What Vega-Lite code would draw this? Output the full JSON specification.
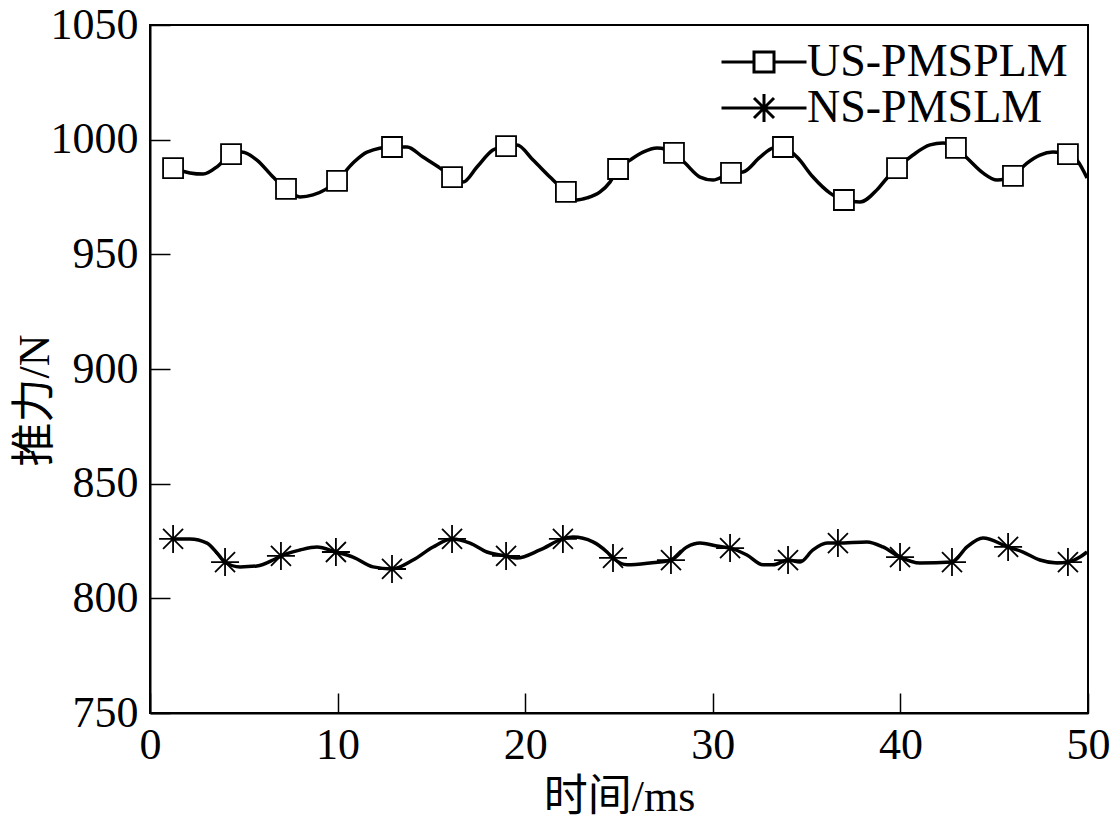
{
  "$schema": "https://vega.github.io/schema/vega-lite/v6.json",
  "width": 938,
  "height": 688,
  "autosize": {"type": "none"},
  "padding": {"left": 150, "top": 25, "right": 22, "bottom": 111},
  "background": "white",
  "config": {
    "view": {"stroke": "black", "strokeWidth": 2},
    "font": "Liberation Serif, Noto Sans CJK SC"
  },
  "datasets": {
    "force": [
      {"s": "US-PMSPLM", "t": 1.23, "v": 987.6, "m": 1},
      {"s": "US-PMSPLM", "t": 2.13, "v": 985.5, "m": 0},
      {"s": "US-PMSPLM", "t": 2.83, "v": 985.0, "m": 0},
      {"s": "US-PMSPLM", "t": 3.62, "v": 988.5, "m": 0},
      {"s": "US-PMSPLM", "t": 4.32, "v": 993.7, "m": 1},
      {"s": "US-PMSPLM", "t": 4.90, "v": 994.6, "m": 0},
      {"s": "US-PMSPLM", "t": 5.70, "v": 991.1, "m": 0},
      {"s": "US-PMSPLM", "t": 6.56, "v": 983.7, "m": 0},
      {"s": "US-PMSPLM", "t": 7.25, "v": 978.5, "m": 1},
      {"s": "US-PMSPLM", "t": 8.00, "v": 975.0, "m": 0},
      {"s": "US-PMSPLM", "t": 8.69, "v": 975.9, "m": 0},
      {"s": "US-PMSPLM", "t": 9.97, "v": 982.0, "m": 1},
      {"s": "US-PMSPLM", "t": 10.82, "v": 989.8, "m": 0},
      {"s": "US-PMSPLM", "t": 11.57, "v": 994.6, "m": 0},
      {"s": "US-PMSPLM", "t": 12.90, "v": 996.8, "m": 1},
      {"s": "US-PMSPLM", "t": 13.70, "v": 996.8, "m": 0},
      {"s": "US-PMSPLM", "t": 14.55, "v": 992.4, "m": 0},
      {"s": "US-PMSPLM", "t": 15.46, "v": 987.6, "m": 0},
      {"s": "US-PMSPLM", "t": 16.10, "v": 983.7, "m": 1},
      {"s": "US-PMSPLM", "t": 16.68, "v": 981.5, "m": 0},
      {"s": "US-PMSPLM", "t": 17.43, "v": 988.1, "m": 0},
      {"s": "US-PMSPLM", "t": 18.28, "v": 995.5, "m": 0},
      {"s": "US-PMSPLM", "t": 18.98, "v": 997.2, "m": 1},
      {"s": "US-PMSPLM", "t": 19.56, "v": 997.7, "m": 0},
      {"s": "US-PMSPLM", "t": 20.42, "v": 991.1, "m": 0},
      {"s": "US-PMSPLM", "t": 21.32, "v": 983.7, "m": 0},
      {"s": "US-PMSPLM", "t": 22.17, "v": 977.2, "m": 1},
      {"s": "US-PMSPLM", "t": 22.76, "v": 973.7, "m": 0},
      {"s": "US-PMSPLM", "t": 23.29, "v": 974.6, "m": 0},
      {"s": "US-PMSPLM", "t": 23.99, "v": 977.2, "m": 0},
      {"s": "US-PMSPLM", "t": 24.52, "v": 981.5, "m": 0},
      {"s": "US-PMSPLM", "t": 24.95, "v": 987.2, "m": 1},
      {"s": "US-PMSPLM", "t": 25.59, "v": 991.1, "m": 0},
      {"s": "US-PMSPLM", "t": 26.28, "v": 994.6, "m": 0},
      {"s": "US-PMSPLM", "t": 27.03, "v": 996.4, "m": 0},
      {"s": "US-PMSPLM", "t": 27.93, "v": 994.2, "m": 1},
      {"s": "US-PMSPLM", "t": 28.52, "v": 989.8, "m": 0},
      {"s": "US-PMSPLM", "t": 29.32, "v": 983.7, "m": 0},
      {"s": "US-PMSPLM", "t": 30.01, "v": 982.4, "m": 0},
      {"s": "US-PMSPLM", "t": 30.97, "v": 985.5, "m": 1},
      {"s": "US-PMSPLM", "t": 31.61, "v": 985.9, "m": 0},
      {"s": "US-PMSPLM", "t": 32.52, "v": 992.4, "m": 0},
      {"s": "US-PMSPLM", "t": 33.21, "v": 996.4, "m": 0},
      {"s": "US-PMSPLM", "t": 33.74, "v": 996.8, "m": 1},
      {"s": "US-PMSPLM", "t": 34.49, "v": 992.4, "m": 0},
      {"s": "US-PMSPLM", "t": 35.34, "v": 983.7, "m": 0},
      {"s": "US-PMSPLM", "t": 36.25, "v": 976.7, "m": 0},
      {"s": "US-PMSPLM", "t": 36.99, "v": 973.7, "m": 1},
      {"s": "US-PMSPLM", "t": 37.85, "v": 972.8, "m": 0},
      {"s": "US-PMSPLM", "t": 38.75, "v": 978.1, "m": 0},
      {"s": "US-PMSPLM", "t": 39.29, "v": 983.3, "m": 0},
      {"s": "US-PMSPLM", "t": 39.82, "v": 987.6, "m": 1},
      {"s": "US-PMSPLM", "t": 40.67, "v": 993.3, "m": 0},
      {"s": "US-PMSPLM", "t": 41.58, "v": 997.7, "m": 0},
      {"s": "US-PMSPLM", "t": 42.27, "v": 998.5, "m": 0},
      {"s": "US-PMSPLM", "t": 42.96, "v": 996.4, "m": 1},
      {"s": "US-PMSPLM", "t": 43.55, "v": 992.0, "m": 0},
      {"s": "US-PMSPLM", "t": 44.40, "v": 985.5, "m": 0},
      {"s": "US-PMSPLM", "t": 45.15, "v": 982.4, "m": 0},
      {"s": "US-PMSPLM", "t": 46.00, "v": 984.2, "m": 1},
      {"s": "US-PMSPLM", "t": 46.75, "v": 989.8, "m": 0},
      {"s": "US-PMSPLM", "t": 47.44, "v": 993.3, "m": 0},
      {"s": "US-PMSPLM", "t": 48.13, "v": 994.6, "m": 0},
      {"s": "US-PMSPLM", "t": 48.93, "v": 993.7, "m": 1},
      {"s": "US-PMSPLM", "t": 49.41, "v": 991.1, "m": 0},
      {"s": "US-PMSPLM", "t": 49.95, "v": 983.3, "m": 0},
      {"s": "NS-PMSLM", "t": 1.23, "v": 825.9, "m": 1},
      {"s": "NS-PMSLM", "t": 2.13, "v": 825.9, "m": 0},
      {"s": "NS-PMSLM", "t": 3.04, "v": 824.1, "m": 0},
      {"s": "NS-PMSLM", "t": 3.57, "v": 819.8, "m": 0},
      {"s": "NS-PMSLM", "t": 4.00, "v": 815.8, "m": 1},
      {"s": "NS-PMSLM", "t": 4.80, "v": 813.7, "m": 0},
      {"s": "NS-PMSLM", "t": 5.70, "v": 814.1, "m": 0},
      {"s": "NS-PMSLM", "t": 6.56, "v": 816.7, "m": 0},
      {"s": "NS-PMSLM", "t": 6.98, "v": 818.5, "m": 1},
      {"s": "NS-PMSLM", "t": 8.00, "v": 821.1, "m": 0},
      {"s": "NS-PMSLM", "t": 8.90, "v": 822.4, "m": 0},
      {"s": "NS-PMSLM", "t": 9.91, "v": 820.2, "m": 1},
      {"s": "NS-PMSLM", "t": 10.82, "v": 818.0, "m": 0},
      {"s": "NS-PMSLM", "t": 11.89, "v": 813.7, "m": 0},
      {"s": "NS-PMSLM", "t": 12.90, "v": 812.8, "m": 1},
      {"s": "NS-PMSLM", "t": 14.02, "v": 816.7, "m": 0},
      {"s": "NS-PMSLM", "t": 15.09, "v": 822.4, "m": 0},
      {"s": "NS-PMSLM", "t": 16.10, "v": 825.9, "m": 1},
      {"s": "NS-PMSLM", "t": 17.06, "v": 824.1, "m": 0},
      {"s": "NS-PMSLM", "t": 17.96, "v": 820.2, "m": 0},
      {"s": "NS-PMSLM", "t": 18.98, "v": 818.5, "m": 1},
      {"s": "NS-PMSLM", "t": 19.56, "v": 817.6, "m": 0},
      {"s": "NS-PMSLM", "t": 20.79, "v": 821.1, "m": 0},
      {"s": "NS-PMSLM", "t": 22.01, "v": 825.9, "m": 1},
      {"s": "NS-PMSLM", "t": 22.55, "v": 826.7, "m": 0},
      {"s": "NS-PMSLM", "t": 23.61, "v": 824.6, "m": 0},
      {"s": "NS-PMSLM", "t": 24.36, "v": 820.2, "m": 0},
      {"s": "NS-PMSLM", "t": 24.68, "v": 817.6, "m": 1},
      {"s": "NS-PMSLM", "t": 25.43, "v": 814.6, "m": 0},
      {"s": "NS-PMSLM", "t": 26.65, "v": 815.4, "m": 0},
      {"s": "NS-PMSLM", "t": 27.77, "v": 816.7, "m": 1},
      {"s": "NS-PMSLM", "t": 28.62, "v": 822.4, "m": 0},
      {"s": "NS-PMSLM", "t": 29.32, "v": 824.1, "m": 0},
      {"s": "NS-PMSLM", "t": 30.22, "v": 822.8, "m": 0},
      {"s": "NS-PMSLM", "t": 30.92, "v": 821.9, "m": 1},
      {"s": "NS-PMSLM", "t": 31.82, "v": 818.9, "m": 0},
      {"s": "NS-PMSLM", "t": 32.68, "v": 814.6, "m": 0},
      {"s": "NS-PMSLM", "t": 33.21, "v": 814.6, "m": 0},
      {"s": "NS-PMSLM", "t": 34.01, "v": 816.7, "m": 1},
      {"s": "NS-PMSLM", "t": 34.65, "v": 815.8, "m": 0},
      {"s": "NS-PMSLM", "t": 35.34, "v": 821.1, "m": 0},
      {"s": "NS-PMSLM", "t": 36.09, "v": 824.1, "m": 0},
      {"s": "NS-PMSLM", "t": 36.67, "v": 824.1, "m": 1},
      {"s": "NS-PMSLM", "t": 38.22, "v": 824.6, "m": 0},
      {"s": "NS-PMSLM", "t": 39.07, "v": 822.4, "m": 0},
      {"s": "NS-PMSLM", "t": 39.98, "v": 818.0, "m": 1},
      {"s": "NS-PMSLM", "t": 41.04, "v": 815.4, "m": 0},
      {"s": "NS-PMSLM", "t": 42.75, "v": 815.8, "m": 1},
      {"s": "NS-PMSLM", "t": 43.55, "v": 822.4, "m": 0},
      {"s": "NS-PMSLM", "t": 44.40, "v": 826.3, "m": 0},
      {"s": "NS-PMSLM", "t": 45.74, "v": 822.4, "m": 1},
      {"s": "NS-PMSLM", "t": 46.54, "v": 820.2, "m": 0},
      {"s": "NS-PMSLM", "t": 47.44, "v": 816.7, "m": 0},
      {"s": "NS-PMSLM", "t": 48.35, "v": 815.4, "m": 0},
      {"s": "NS-PMSLM", "t": 48.93, "v": 815.8, "m": 1},
      {"s": "NS-PMSLM", "t": 49.57, "v": 818.0, "m": 0},
      {"s": "NS-PMSLM", "t": 49.95, "v": 820.2, "m": 0}
    ]
  },
  "data": {"name": "force"},
  "encoding": {
    "x": {
      "field": "t",
      "type": "quantitative",
      "scale": {"domain": [0, 50], "nice": false},
      "axis": {
        "title": "时间/ms",
        "values": [0, 10, 20, 30, 40, 50],
        "format": "d",
        "grid": false,
        "tickSize": -20,
        "tickColor": "black",
        "tickWidth": 1.5,
        "domainColor": "black",
        "domainWidth": 2,
        "labelFontSize": 44,
        "labelColor": "black",
        "labelPadding": 30,
        "labelFlush": false,
        "labelOverlap": false,
        "titleFontSize": 44,
        "titleFontWeight": "normal",
        "titleColor": "black",
        "titlePadding": 8
      }
    },
    "y": {
      "field": "v",
      "type": "quantitative",
      "scale": {"domain": [750, 1050], "nice": false, "zero": false},
      "axis": {
        "title": "推力/N",
        "values": [750, 800, 850, 900, 950, 1000, 1050],
        "format": "d",
        "grid": false,
        "tickSize": -20,
        "tickColor": "black",
        "tickWidth": 1.5,
        "domainColor": "black",
        "domainWidth": 2,
        "labelFontSize": 44,
        "labelColor": "black",
        "labelPadding": 32,
        "labelFlush": false,
        "labelOverlap": false,
        "titleFontSize": 44,
        "titleFontWeight": "normal",
        "titleColor": "black",
        "titleX": -115,
        "titleY": 375,
        "titleBaseline": "middle"
      }
    }
  },
  "layer": [
    {
      "mark": {"type": "line", "interpolate": "monotone", "stroke": "black", "strokeWidth": 3.5},
      "encoding": {"detail": {"field": "s", "type": "nominal"}}
    },
    {
      "transform": [{"filter": "datum.m == 1"}],
      "mark": {"type": "point", "filled": true, "fill": "white", "stroke": "black", "strokeWidth": 1.8, "size": 400, "opacity": 1},
      "encoding": {
        "shape": {
          "field": "s",
          "type": "nominal",
          "scale": {
            "domain": ["US-PMSPLM", "NS-PMSLM"],
            "range": ["M-1,-1L1,-1L1,1L-1,1Z", "M-1.4,0L1.4,0M0,-1.4L0,1.4M-1,-1L1,1M-1,1L1,-1"]
          },
          "legend": null
        }
      }
    },
    {
      "transform": [{"filter": "datum.m == 1"}],
      "mark": {"type": "point", "filled": true, "fill": "white", "stroke": "black", "strokeWidth": 3, "size": 400, "opacity": 0},
      "encoding": {
        "shape": {
          "field": "s",
          "type": "nominal",
          "scale": {
            "domain": ["US-PMSPLM", "NS-PMSLM"],
            "range": ["M-4.25,0L-1,0M1,0L4.25,0M-1,-1L1,-1L1,1L-1,1Z", "M-4.25,0L4.25,0M0,-1.4L0,1.4M-1,-1L1,1M-1,1L1,-1"]
          },
          "legend": {
            "title": null,
            "orient": "none",
            "legendX": 591,
            "legendY": 14,
            "symbolSize": 400,
            "symbolStrokeWidth": 3,
            "labelFontSize": 46,
            "labelFont": "Liberation Serif",
            "labelColor": "black",
            "labelOffset": 20,
            "labelLimit": 0,
            "rowPadding": -4,
            "encode": {
              "symbols": {
                "update": {
                  "fill": {"value": "white"},
                  "stroke": {"value": "black"},
                  "strokeWidth": {"value": 3},
                  "opacity": {"value": 1}
                }
              }
            }
          }
        }
      }
    }
  ],
  "resolve": {"scale": {"shape": "independent"}}
}
